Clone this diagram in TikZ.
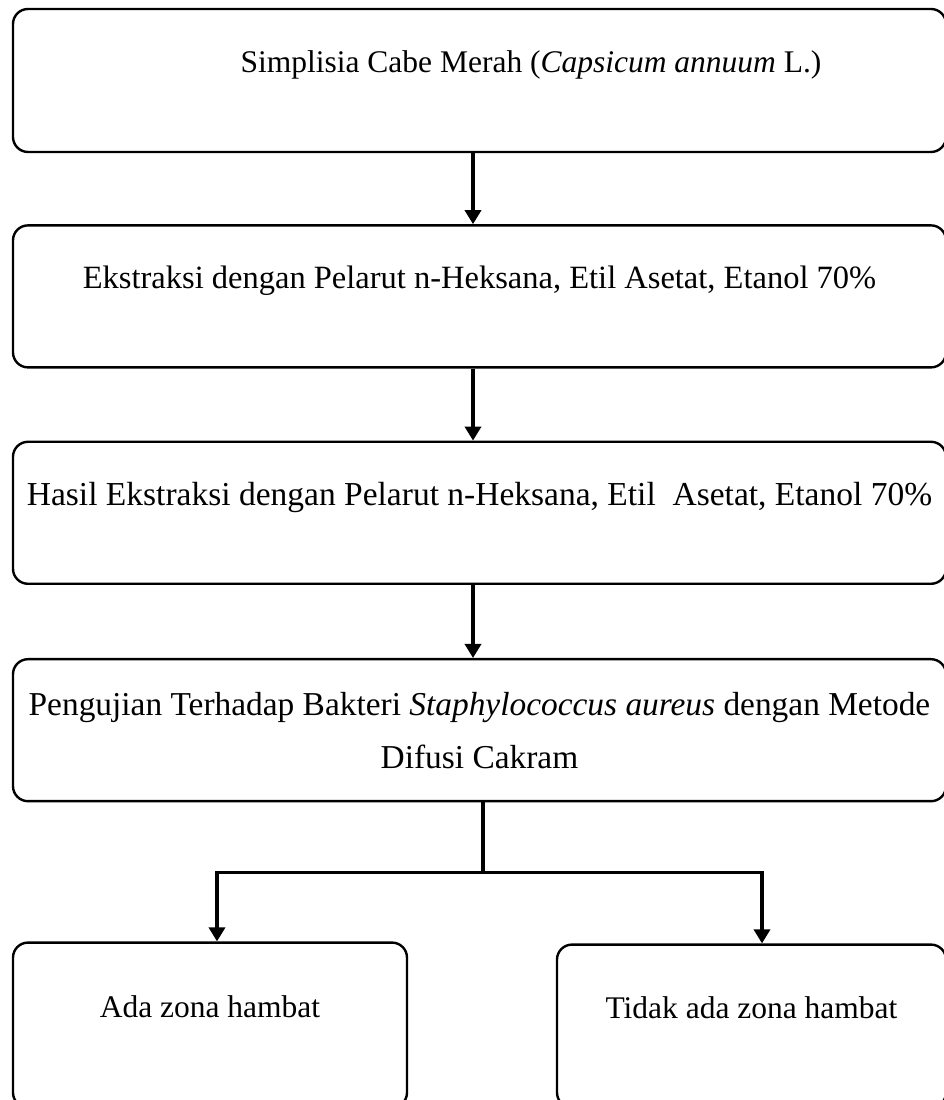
\documentclass[tikz,border=0pt]{standalone}
\usepackage{fontspec}
\setmainfont{Liberation Serif}
\usetikzlibrary{arrows.meta, positioning}

\begin{document}
\begin{tikzpicture}[
    x=1pt, y=1pt,
    box/.style={rectangle, draw, rounded corners=15pt, line width=2.4pt, inner sep=0pt,
                minimum width=933pt, minimum height=142pt, align=center,
                font=\fontsize{31.5}{53}\selectfont},
    oneline/.style={text height=22pt, text depth=37pt},
    link/.style={draw, line width=3.4pt},
    arrow/.style={draw, line width=3.4pt, -{Triangle[width=16pt, length=14pt]}}
]
\useasboundingbox (0,0) rectangle (944,1100);

% Boxes
\node[box, oneline, minimum height=143pt] (simplisia) at (479.5,1019.5) {\hspace*{103pt}Simplisia Cabe Merah (\textit{Capsicum annuum} L.)};
\node[box, oneline, below=71pt of simplisia, font=\fontsize{32.5}{53}\selectfont] (ekstraksi) {Ekstraksi dengan Pelarut n-Heksana, Etil Asetat, Etanol 70\%};
\node[box, oneline, below=72pt of ekstraksi, font=\fontsize{33.5}{53}\selectfont] (hasil) {Hasil Ekstraksi dengan Pelarut n-Heksana, Etil\ \ Asetat, Etanol 70\%};
\node[box, below=73pt of hasil, font=\fontsize{33.4}{53}\selectfont] (uji) {Pengujian Terhadap Bakteri \textit{Staphylococcus aureus} dengan Metode\\Difusi Cakram};
\node[box, oneline, minimum width=394pt, minimum height=165pt, below=139pt of uji.south west, anchor=north west] (ada) {Ada zona hambat};
\node[box, oneline, minimum width=389pt, minimum height=163pt, below=141pt of uji.south west, anchor=north west, xshift=544pt] (tidak) {Tidak ada zona hambat};

% Connections
\coordinate (split) at ([xshift=3.5pt, yshift=-70pt]uji.south);
\draw[arrow] ([xshift=-6.5pt]simplisia.south) -- ([xshift=-6.5pt]ekstraksi.north);
\draw[arrow] ([xshift=-6.5pt]ekstraksi.south) -- ([xshift=-6.5pt]hasil.north);
\draw[arrow] ([xshift=-6.5pt]hasil.south) -- ([xshift=-6.5pt]uji.north);
\draw[link] ([xshift=3.5pt]uji.south) -- (split);
\draw[arrow] (split) -| ([xshift=7pt]ada.north);
\draw[arrow] (split) -| ([xshift=10.5pt]tidak.north);

\end{tikzpicture}
\end{document}
